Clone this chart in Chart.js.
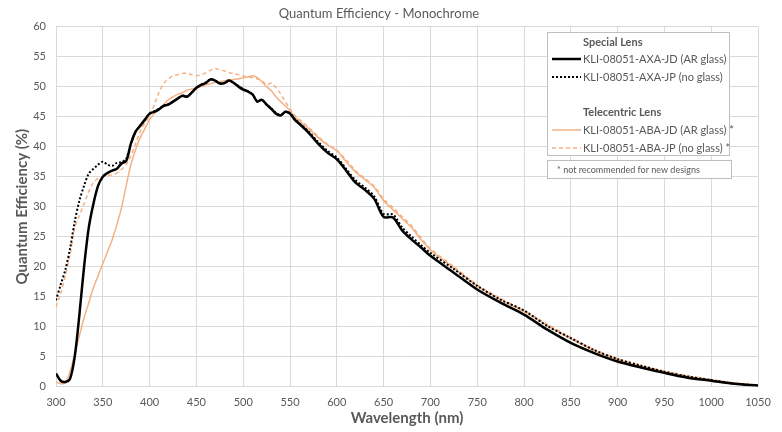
<!DOCTYPE html>
<html>
<head>
<meta charset="utf-8">
<script src="https://cdn.jsdelivr.net/npm/chart.js@4.4.1/dist/chart.umd.min.js"></script>
<style>
  html, body { margin: 0; padding: 0; background: #fff; }
  #wrap { width: 782px; height: 432px; }
</style>
</head>
<body>
<div id="wrap"><canvas id="qeChart" width="782" height="432"></canvas></div>
<script>
// wavelength (nm)
const wavelengths = [
  300,305,310,315,320,325,330,335,340,345,
  350,355,360,365,370,375,380,385,390,395,
  400,405,410,415,420,425,430,435,440,445,
  450,455,460,465,470,475,480,485,490,495,
  500,505,510,515,520,525,530,535,540,545,
  550,555,560,
  570,580,590,600,610,620,630,640,650,660,670,680,690,700,
  725,750,775,800,825,850,875,900,925,950,975,1000,1025,1050
];

// KLI-08051-AXA-JD (AR glass)
const axaJD = [
  2.2,1.0,0.8,1.3,5,12,20,26.5,30.5,33.5,
  35,35.6,36,36.3,37.2,37.6,40.5,42.5,43.5,44.5,
  45.5,45.8,46.2,46.8,47,47.5,48,48.5,48.3,49,
  49.8,50.3,50.6,51.2,51,50.5,50.6,51,50.6,50,
  49.5,49.2,48.7,47.5,47.8,47,46.3,45.5,45.2,45.8,
  45.5,44.5,43.8,
  42.3,40.5,39,37.9,36,34,32.8,31.3,28.3,28.2,26,24.5,23.2,21.8,
  19,16.2,14,12,9.5,7.3,5.6,4.2,3.2,2.3,1.5,1,0.5,0.2
];

// KLI-08051-AXA-JP (no glass)
const axaJP = [
  14.4,17,19.5,23,27.5,31,33.5,35.5,36.3,37,
  37.5,37,36.8,37.3,37.4,38,40.5,42.5,43.5,44.5,
  45.5,45.9,46.3,46.8,47.1,47.5,48,48.4,48.4,49,
  49.8,50.3,50.7,51.2,51,50.6,50.6,51,50.6,50.1,
  49.6,49.2,48.7,47.6,47.8,47,46.4,45.6,45.3,45.8,
  45.6,44.6,43.9,
  42.5,40.8,39.3,38.2,36.3,34.4,33.2,31.7,28.8,28.7,26.5,25,23.6,22.3,
  19.6,16.8,14.5,12.7,10.1,8.1,6.1,4.6,3.5,2.5,1.7,1.1,0.5,0.2
];

// KLI-08051-ABA-JD (AR glass) *
const abaJD = [
  0.8,0.5,0.6,2.5,5.5,8.5,11.5,14,16.5,18.5,
  20.5,22.5,24.5,27,29.8,33.5,37,39.5,41.5,43,
  44.5,45.5,46.3,47,47.8,48.3,48.7,49,49.4,49.6,
  49.8,50,50.3,50.5,50.7,50.8,51,51.1,51.2,51.3,
  51.5,51.6,51.8,51.5,50.8,50,49.3,48.3,47.5,46.8,
  46,45,44.3,
  43,41.5,40.3,39.3,37.5,35.8,34.5,33.2,31,29.5,28,26.5,24.5,22.8,
  19.8,16.8,14.5,12.5,10.2,8,6,4.5,3.4,2.5,1.7,1.1,0.6,0.2
];

// KLI-08051-ABA-JP (no glass) *
const abaJP = [
  13.3,15.5,18.5,22,26.5,28.5,30.5,32.5,34,34.7,
  35,35.2,35.3,35.6,36.2,37,38.5,40.5,42.5,44,
  45,47,49,50.5,51.3,51.8,52,52.2,52.2,52,
  51.8,52,52.3,52.7,53,52.8,52.6,52.3,52.2,52,
  51.8,51.6,51.5,51.3,51,50.3,50.6,49.8,48.8,47.5,
  46.3,45.2,44.5,
  43.2,41.7,40.4,39.4,37.8,36,34.7,33.4,31.3,29.8,28.3,26.8,24.8,23,
  20,17,14.7,12.7,10.4,8.2,6.2,4.7,3.5,2.6,1.8,1.2,0.6,0.2
];

const xTicks = [300,350,400,450,500,550,600,650,700,750,800,850,900,950,1000,1050];
const yTicks = [0,5,10,15,20,25,30,35,40,45,50,55,60];

const BLACK = "#000000";
const ORANGE = "#f4b183";
const GREY_TEXT = "#595959";
const GRID = "#d9d9d9";
const FONT = "Lato, 'Open Sans', sans-serif";

function pts(values) {
  return wavelengths.map((w, i) => ({ x: w, y: values[i] }));
}

// legend with group headings, drawn on the canvas
const groupLegend = {
  id: "groupLegend",
  afterDraw(chart) {
    const ctx = chart.ctx;
    ctx.save();
    ctx.fillStyle = "#fff";
    ctx.strokeStyle = "#bfbfbf";
    ctx.lineWidth = 1;
    ctx.fillRect(547, 32, 182, 123);
    ctx.strokeRect(547.5, 32.5, 182, 123);
    ctx.fillRect(547, 160, 184, 18);
    ctx.strokeRect(547.5, 160.5, 184, 18);

    ctx.textBaseline = "middle";
    ctx.textAlign = "left";
    ctx.fillStyle = GREY_TEXT;
    ctx.font = "bold 11px " + FONT;
    ctx.fillText("Special Lens", 583, 42);
    ctx.fillText("Telecentric Lens", 583, 112);

    const rows = [
      { y: 59, text: "KLI-08051-AXA-JD (AR glass)", color: BLACK, width: 2.5, dash: [] },
      { y: 77, text: "KLI-08051-AXA-JP (no glass)", color: BLACK, width: 2, dash: [2, 2] },
      { y: 130, text: "KLI-08051-ABA-JD (AR glass) *", color: ORANGE, width: 1.5, dash: [] },
      { y: 148, text: "KLI-08051-ABA-JP (no glass) *", color: ORANGE, width: 1.5, dash: [4, 3] }
    ];
    rows.forEach(r => {
      ctx.beginPath();
      ctx.strokeStyle = r.color;
      ctx.lineWidth = r.width;
      ctx.setLineDash(r.dash);
      ctx.moveTo(552, r.y);
      ctx.lineTo(581, r.y);
      ctx.stroke();
      ctx.setLineDash([]);
      ctx.fillStyle = GREY_TEXT;
      ctx.font = "11px " + FONT;
      ctx.fillText(r.text, 583, r.y);
    });

    ctx.font = "9px " + FONT;
    ctx.fillText("* not recommended for new designs", 557, 170);
    ctx.restore();
  }
};

new Chart(document.getElementById("qeChart"), {
  type: "line",
  data: {
    datasets: [
      { label: "KLI-08051-AXA-JD (AR glass)", data: pts(axaJD), borderColor: BLACK, borderWidth: 2.5, order: 1 },
      { label: "KLI-08051-AXA-JP (no glass)", data: pts(axaJP), borderColor: BLACK, borderWidth: 2, borderDash: [2, 2], order: 2 },
      { label: "KLI-08051-ABA-JD (AR glass) *", data: pts(abaJD), borderColor: ORANGE, borderWidth: 1.5, order: 3 },
      { label: "KLI-08051-ABA-JP (no glass) *", data: pts(abaJP), borderColor: ORANGE, borderWidth: 1.5, borderDash: [4, 3], order: 4 }
    ]
  },
  options: {
    responsive: false,
    animation: false,
    elements: {
      point: { radius: 0 },
      line: { tension: 0.3, fill: false }
    },
    layout: { padding: { left: 0, right: 24, top: 0, bottom: 0 } },
    plugins: {
      legend: { display: false },
      tooltip: { enabled: false },
      title: {
        display: true,
        text: "Quantum Efficiency - Monochrome",
        color: GREY_TEXT,
        font: { family: FONT, size: 13, weight: "normal" },
        padding: { top: 6, bottom: 5 }
      }
    },
    scales: {
      x: {
        type: "linear",
        min: 300,
        max: 1050,
        afterBuildTicks: s => { s.ticks = xTicks.map(v => ({ value: v })); },
        afterFit: s => { s.height = 45.3; },
        grid: { color: GRID, drawTicks: false },
        border: { color: GRID },
        ticks: {
          color: GREY_TEXT,
          font: { family: FONT, size: 11 },
          padding: 9,
          maxRotation: 0,
          callback: v => String(v)
        },
        title: {
          display: true,
          text: "Wavelength (nm)",
          color: GREY_TEXT,
          font: { family: FONT, size: 15, weight: "bold" },
          padding: { top: 0, bottom: 5 }
        }
      },
      y: {
        min: 0,
        max: 60,
        afterBuildTicks: s => { s.ticks = yTicks.map(v => ({ value: v })); },
        afterFit: s => { s.width = 56; },
        grid: { color: GRID, drawTicks: false },
        border: { color: GRID },
        ticks: { color: GREY_TEXT, font: { family: FONT, size: 11 }, padding: 10 },
        title: {
          display: true,
          text: "Quantum Efficiency (%)",
          color: GREY_TEXT,
          font: { family: FONT, size: 15, weight: "bold" },
          padding: { top: 13, bottom: 0 }
        }
      }
    }
  },
  plugins: [groupLegend]
});
</script>
</body>
</html>
